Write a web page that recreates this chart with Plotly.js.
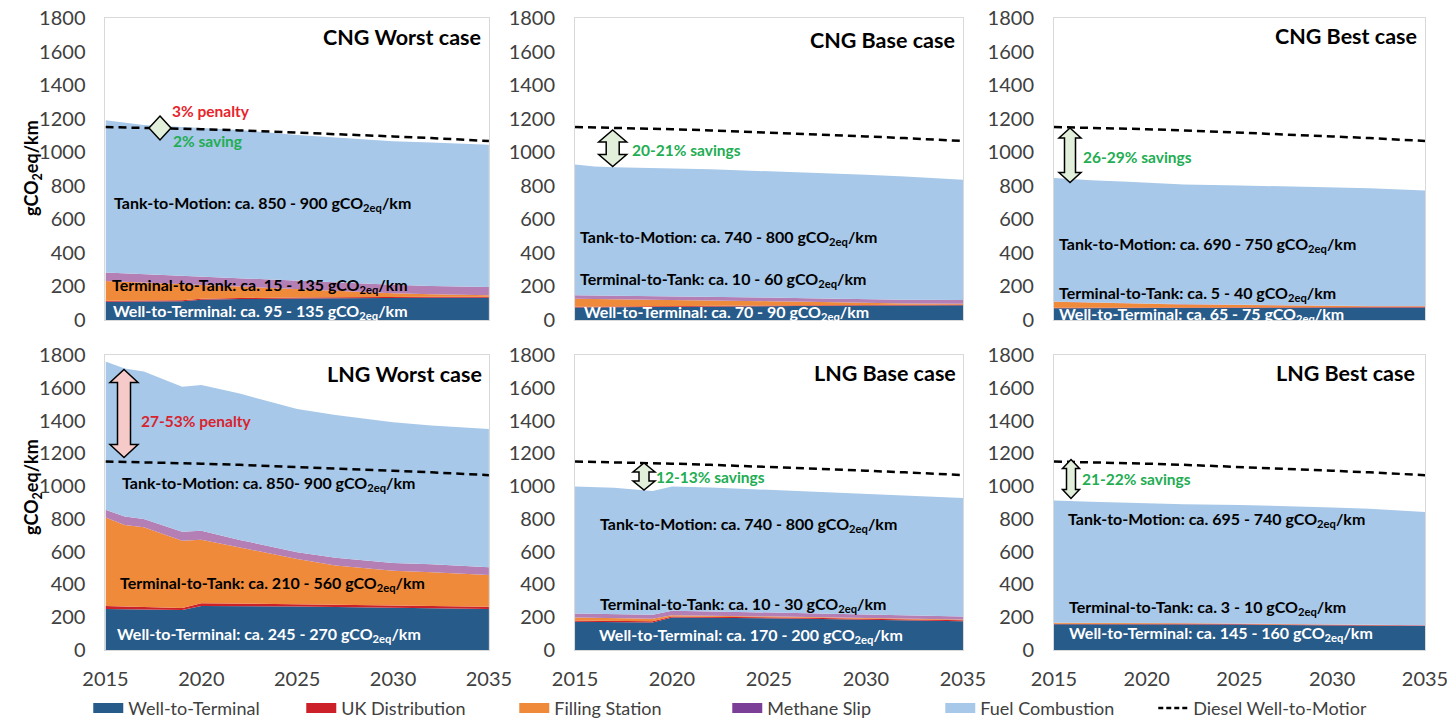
<!DOCTYPE html>
<html><head><meta charset="utf-8">
<script src="https://cdn.plot.ly/plotly-3.0.1.min.js"></script>
<style>html,body{margin:0;padding:0;background:#fff}#chart{width:1447px;height:722px}</style>
</head><body><div id="chart"></div>
<script>
// ---------- DATA ----------
const years = [2015, 2016, 2017, 2019, 2020, 2022, 2025, 2027, 2030, 2032, 2035];
const dieselWellToMotion = [1150, 1148, 1145, 1140, 1137, 1130, 1118, 1109, 1094, 1084, 1067];

const cngWorstWTT = [108, 108, 110, 112, 120, 125, 128, 130, 132, 133, 133];
const cngWorstUK  = [6, 6, 6, 6, 6, 6, 6, 6, 6, 6, 6];
const cngWorstFS  = [119, 114, 108, 97, 86, 70, 50, 38, 22, 14, 8];
const cngWorstMS  = [50, 50, 50, 50, 50, 50, 50, 50, 50, 50, 50];
const cngWorstFC  = [907, 897, 888, 885, 883, 882, 868, 864, 856, 855, 848];

const cngBaseWTT = [75, 76, 77, 78, 80, 82, 84, 85, 86, 87, 88];
const cngBaseUK  = [4, 4, 4, 4, 4, 4, 4, 4, 4, 4, 4];
const cngBaseFS  = [47, 45, 43, 38, 36, 31, 24, 19, 12, 8, 5];
const cngBaseMS  = [22, 22, 22, 22, 22, 22, 22, 22, 22, 22, 22];
const cngBaseFC  = [778, 768, 764, 763, 764, 759, 752, 749, 742, 734, 717];

const cngBestWTT = [70, 70, 71, 71, 72, 72, 73, 73, 74, 74, 75];
const cngBestUK  = [3, 3, 3, 3, 3, 3, 3, 3, 3, 3, 3];
const cngBestFS  = [35, 32, 29, 24, 22, 18, 13, 10, 7, 5, 4];
const cngBestMS  = [2, 2, 2, 2, 2, 2, 2, 2, 2, 2, 2];
const cngBestFC  = [737, 733, 728, 724, 719, 713, 711, 710, 704, 701, 688];

const lngWorstWTT = [250, 248, 246, 244, 268, 268, 266, 262, 258, 254, 250];
const lngWorstUK  = [18, 16, 15, 12, 18, 16, 14, 14, 13, 13, 14];
const lngWorstFS  = [541, 499, 488, 411, 387, 343, 275, 239, 213, 207, 194];
const lngWorstMS  = [47, 52, 50, 55, 55, 45, 42, 48, 47, 50, 47];
const lngWorstFC  = [904, 903, 901, 885, 889, 893, 873, 871, 858, 846, 843];

const lngBaseWTT = [172, 171, 170, 168, 198, 197, 194, 191, 185, 181, 176];
const lngBaseUK  = [8, 8, 8, 8, 6, 6, 6, 6, 6, 6, 6];
const lngBaseFS  = [18, 17, 16, 15, 8, 7, 6, 5, 4, 4, 4];
const lngBaseMS  = [25, 25, 25, 24, 27, 26, 24, 23, 22, 20, 18];
const lngBaseFC  = [775, 775, 771, 755, 758, 756, 747, 743, 736, 733, 723];

const lngBestWTT = [157, 157, 158, 158, 158, 157, 155, 153, 150, 148, 146];
const lngBestUK  = [3, 3, 3, 3, 3, 3, 3, 3, 3, 3, 3];
const lngBestFS  = [6, 6, 5, 5, 4, 4, 3, 3, 2, 2, 1];
const lngBestMS  = [1, 1, 1, 1, 1, 1, 1, 1, 1, 1, 1];
const lngBestFC  = [746, 741, 737, 731, 729, 725, 723, 720, 714, 708, 691];

const seriesNames = ['Well-to-Terminal', 'UK Distribution', 'Filling Station', 'Methane Slip', 'Fuel Combustion'];
const dieselName = 'Diesel Well-to-Motion';
const xTicks = [2015, 2020, 2025, 2030, 2035];

const panelTitles = ['CNG Worst case', 'CNG Base case', 'CNG Best case', 'LNG Worst case', 'LNG Base case', 'LNG Best case'];
const ttmLabels = ['Tank-to-Motion: ca. 850 - 900 gCO<sub>2eq</sub>/km', 'Tank-to-Motion: ca. 740 - 800 gCO<sub>2eq</sub>/km', 'Tank-to-Motion: ca. 690 - 750 gCO<sub>2eq</sub>/km',
                   'Tank-to-Motion: ca. 850- 900 gCO<sub>2eq</sub>/km', 'Tank-to-Motion: ca. 740 - 800 gCO<sub>2eq</sub>/km', 'Tank-to-Motion: ca. 695 - 740 gCO<sub>2eq</sub>/km'];
const tttLabels = ['Terminal-to-Tank: ca. 15 - 135 gCO<sub>2eq</sub>/km', 'Terminal-to-Tank: ca. 10 - 60 gCO<sub>2eq</sub>/km', 'Terminal-to-Tank: ca. 5 - 40 gCO<sub>2eq</sub>/km',
                   'Terminal-to-Tank: ca. 210 - 560 gCO<sub>2eq</sub>/km', 'Terminal-to-Tank: ca. 10 - 30 gCO<sub>2eq</sub>/km', 'Terminal-to-Tank: ca. 3 - 10 gCO<sub>2eq</sub>/km'];
const wttLabels = ['Well-to-Terminal: ca. 95 - 135 gCO<sub>2eq</sub>/km', 'Well-to-Terminal: ca. 70 - 90 gCO<sub>2eq</sub>/km', 'Well-to-Terminal: ca. 65 - 75 gCO<sub>2eq</sub>/km',
                   'Well-to-Terminal: ca. 245 - 270 gCO<sub>2eq</sub>/km', 'Well-to-Terminal: ca. 170 - 200 gCO<sub>2eq</sub>/km', 'Well-to-Terminal: ca. 145 - 160 gCO<sub>2eq</sub>/km'];
const diffLabels = ['20-21% savings', '26-29% savings', '27-53% penalty', '12-13% savings', '21-22% savings'];

// ---------- STYLE / LAYOUT ----------
const W = 1447, H = 722;
const FONT = 'Lato, "Open Sans", sans-serif';
const fills = ['#275b8a', '#cc2128', '#ef8a3a', '#b47fb5', '#a7c8e8'];
const legendFills = ['#275b8a', '#cc2128', '#ef8a3a', '#7b3f98', '#a7c8e8'];
const GREEN = '#22ad52', RED = '#e8232b';

const panels = [
  [cngWorstWTT, cngWorstUK, cngWorstFS, cngWorstMS, cngWorstFC],
  [cngBaseWTT, cngBaseUK, cngBaseFS, cngBaseMS, cngBaseFC],
  [cngBestWTT, cngBestUK, cngBestFS, cngBestMS, cngBestFC],
  [lngWorstWTT, lngWorstUK, lngWorstFS, lngWorstMS, lngWorstFC],
  [lngBaseWTT, lngBaseUK, lngBaseFS, lngBaseMS, lngBaseFC],
  [lngBestWTT, lngBestUK, lngBestFS, lngBestMS, lngBestFC]
];
const xDomains = [[0.0729, 0.3379], [0.3974, 0.6655], [0.7284, 0.9848]];
const yDomains = [[0.5568, 0.9751], [0.0997, 0.5083]];

const traces = [];
const layout = {
  width: W, height: H, margin: {l: 0, r: 0, t: 0, b: 0, autoexpand: false},
  paper_bgcolor: '#fff', plot_bgcolor: '#fff',
  font: {family: FONT, color: '#404040'},
  showlegend: true,
  legend: {orientation: 'h', x: 0.061, xanchor: 'left', y: 0.019, yanchor: 'middle',
           font: {family: FONT, size: 18, color: '#404040'}, entrywidth: 168, entrywidthmode: 'pixels',
           bgcolor: 'rgba(0,0,0,0)', traceorder: 'normal', itemclick: false},
  annotations: [], shapes: []
};

panels.forEach((p, i) => {
  const n = i + 1, sfx = n === 1 ? '' : String(n);
  const row = i < 3 ? 0 : 1, col = i % 3;
  p.forEach((vals, k) => {
    traces.push({type: 'scatter', x: years, y: vals, xaxis: 'x' + sfx, yaxis: 'y' + sfx,
      stackgroup: 'g' + n, mode: 'lines', line: {width: 0, color: fills[k]}, fillcolor: fills[k],
      name: seriesNames[k], showlegend: false, hoverinfo: 'skip'});
  });
  traces.push({type: 'scatter', x: years, y: dieselWellToMotion, xaxis: 'x' + sfx, yaxis: 'y' + sfx,
    mode: 'lines', line: {color: '#000', width: 2.5, dash: '8px,5px'}, name: dieselName, showlegend: false});
  layout['xaxis' + sfx] = {domain: xDomains[col], anchor: 'y' + sfx, range: [2015, 2035], tickvals: xTicks,
    showticklabels: row === 1, showline: true, mirror: true, linecolor: '#d9d9d9', linewidth: 1,
    showgrid: false, zeroline: false, ticks: '', ticklabelstandoff: 11, ticklabeloverflow: 'allow',
    tickfont: {family: FONT, size: 20, color: '#404040'}, fixedrange: true};
  layout['yaxis' + sfx] = {domain: yDomains[row], anchor: 'x' + sfx, range: [0, 1800], tick0: 0, dtick: 200,
    showline: true, mirror: true, linecolor: '#d9d9d9', linewidth: 1, showgrid: false, zeroline: false,
    ticks: '', ticklabelstandoff: 15, ticklabeloverflow: 'allow',
    tickfont: {family: FONT, size: 20, color: '#404040'}, fixedrange: true};
});

// legend-only entries (thick line swatches)
seriesNames.forEach((nm, k) => {
  traces.push({type: 'scatter', x: [null], y: [null], mode: 'lines',
    line: {width: 12, color: legendFills[k]}, name: nm, showlegend: true});
});
traces.push({type: 'scatter', x: [null], y: [null], mode: 'lines', line: {color: '#000', width: 2.5, dash: '5px,3px'},
  name: dieselName, showlegend: true});

// ---- annotation helpers (pixel positions -> paper coords) ----
const px = v => v / W, py = v => 1 - v / H;
function txt(x, y, text, size, color, anchor, bold = true) {
  layout.annotations.push({xref: 'paper', yref: 'paper', x: px(x), y: py(y), text: bold ? '<b>' + text + '</b>' : text,
    showarrow: false, xanchor: anchor, yanchor: 'middle', font: {family: FONT, size: size, color: color}});
}
function dblArrow(xc, top, bot, hw, sw, hh, fill) {
  const pts = [[xc, top], [xc + hw, top + hh], [xc + sw, top + hh], [xc + sw, bot - hh], [xc + hw, bot - hh], [xc, bot],
               [xc - hw, bot - hh], [xc - sw, bot - hh], [xc - sw, top + hh], [xc - hw, top + hh]];
  const path = 'M' + pts.map(p => px(p[0]) + ',' + py(p[1])).join(' L') + ' Z';
  layout.shapes.push({type: 'path', xref: 'paper', yref: 'paper', path: path, fillcolor: fill,
    line: {color: '#000', width: 1.5}, layer: 'above'});
}
function diamond(xc, yc, hw, hh, fill) {
  const pts = [[xc, yc - hh], [xc + hw, yc], [xc, yc + hh], [xc - hw, yc]];
  const path = 'M' + pts.map(p => px(p[0]) + ',' + py(p[1])).join(' L') + ' Z';
  layout.shapes.push({type: 'path', xref: 'paper', yref: 'paper', path: path, fillcolor: fill,
    line: {color: '#000', width: 1.5}, layer: 'above'});
}

// panel titles (right aligned)
const titlePos = [[483, 37], [957, 40], [1419, 36], [484, 374], [958, 373], [1417, 373]];
titlePos.forEach((p, i) => txt(p[0], p[1], panelTitles[i], 21.5, '#000', 'right'));
// label positions
const ttmPos = [[112, 204], [578, 238], [1057, 245], [120, 483], [598, 524], [1066, 519]];
const tttPos = [[110, 285], [578, 279], [1057, 293], [118, 583], [598, 604], [1067, 607]];
const wttPos = [[111, 311], [582, 312], [1057, 314], [115, 634], [597, 635], [1067, 633]];
const LS = 16;
ttmPos.forEach((p, i) => txt(p[0], p[1], ttmLabels[i], LS, '#000', 'left'));
tttPos.forEach((p, i) => txt(p[0], p[1], tttLabels[i], LS, '#000', 'left'));
wttPos.forEach((p, i) => txt(p[0], p[1], wttLabels[i], LS, '#fff', 'left'));

// difference annotations
const DS = 15.5;
txt(170, 111, '3% penalty', DS, RED, 'left');
txt(171, 141, '2% saving', DS, GREEN, 'left');
txt(630, 150, diffLabels[0], DS, GREEN, 'left');
txt(1081, 157, diffLabels[1], DS, GREEN, 'left');
txt(139, 421, diffLabels[2], DS, '#d9232e', 'left');
txt(654, 477, diffLabels[3], DS, GREEN, 'left');
txt(1080, 479, diffLabels[4], DS, GREEN, 'left');

const LG = '#e2efda', PK = '#f7caca';
diamond(160, 128, 11, 12, LG);
dblArrow(612.7, 130, 166.5, 14, 6.5, 12, LG);
dblArrow(1070, 128, 182.5, 11, 5.5, 10, LG);
dblArrow(124, 369.5, 457.5, 14, 6.5, 13, PK);
dblArrow(644, 463, 490, 11, 5, 9, LG);
dblArrow(1071, 459.5, 498.5, 8.5, 4.5, 9, LG);

// y-axis titles
layout.annotations.push({xref: 'paper', yref: 'paper', x: px(32), y: py(168), text: '<b>gCO<sub>2</sub>eq/km</b>',
  textangle: -90, showarrow: false, xanchor: 'center', yanchor: 'middle', font: {family: FONT, size: 18, color: '#000'}});
layout.annotations.push({xref: 'paper', yref: 'paper', x: px(32), y: py(487), text: '<b>gCO<sub>2</sub>eq/km</b>',
  textangle: -90, showarrow: false, xanchor: 'center', yanchor: 'middle', font: {family: FONT, size: 18, color: '#000'}});

Plotly.newPlot('chart', traces, layout, {staticPlot: true, displayModeBar: false});
</script>
</body></html>
